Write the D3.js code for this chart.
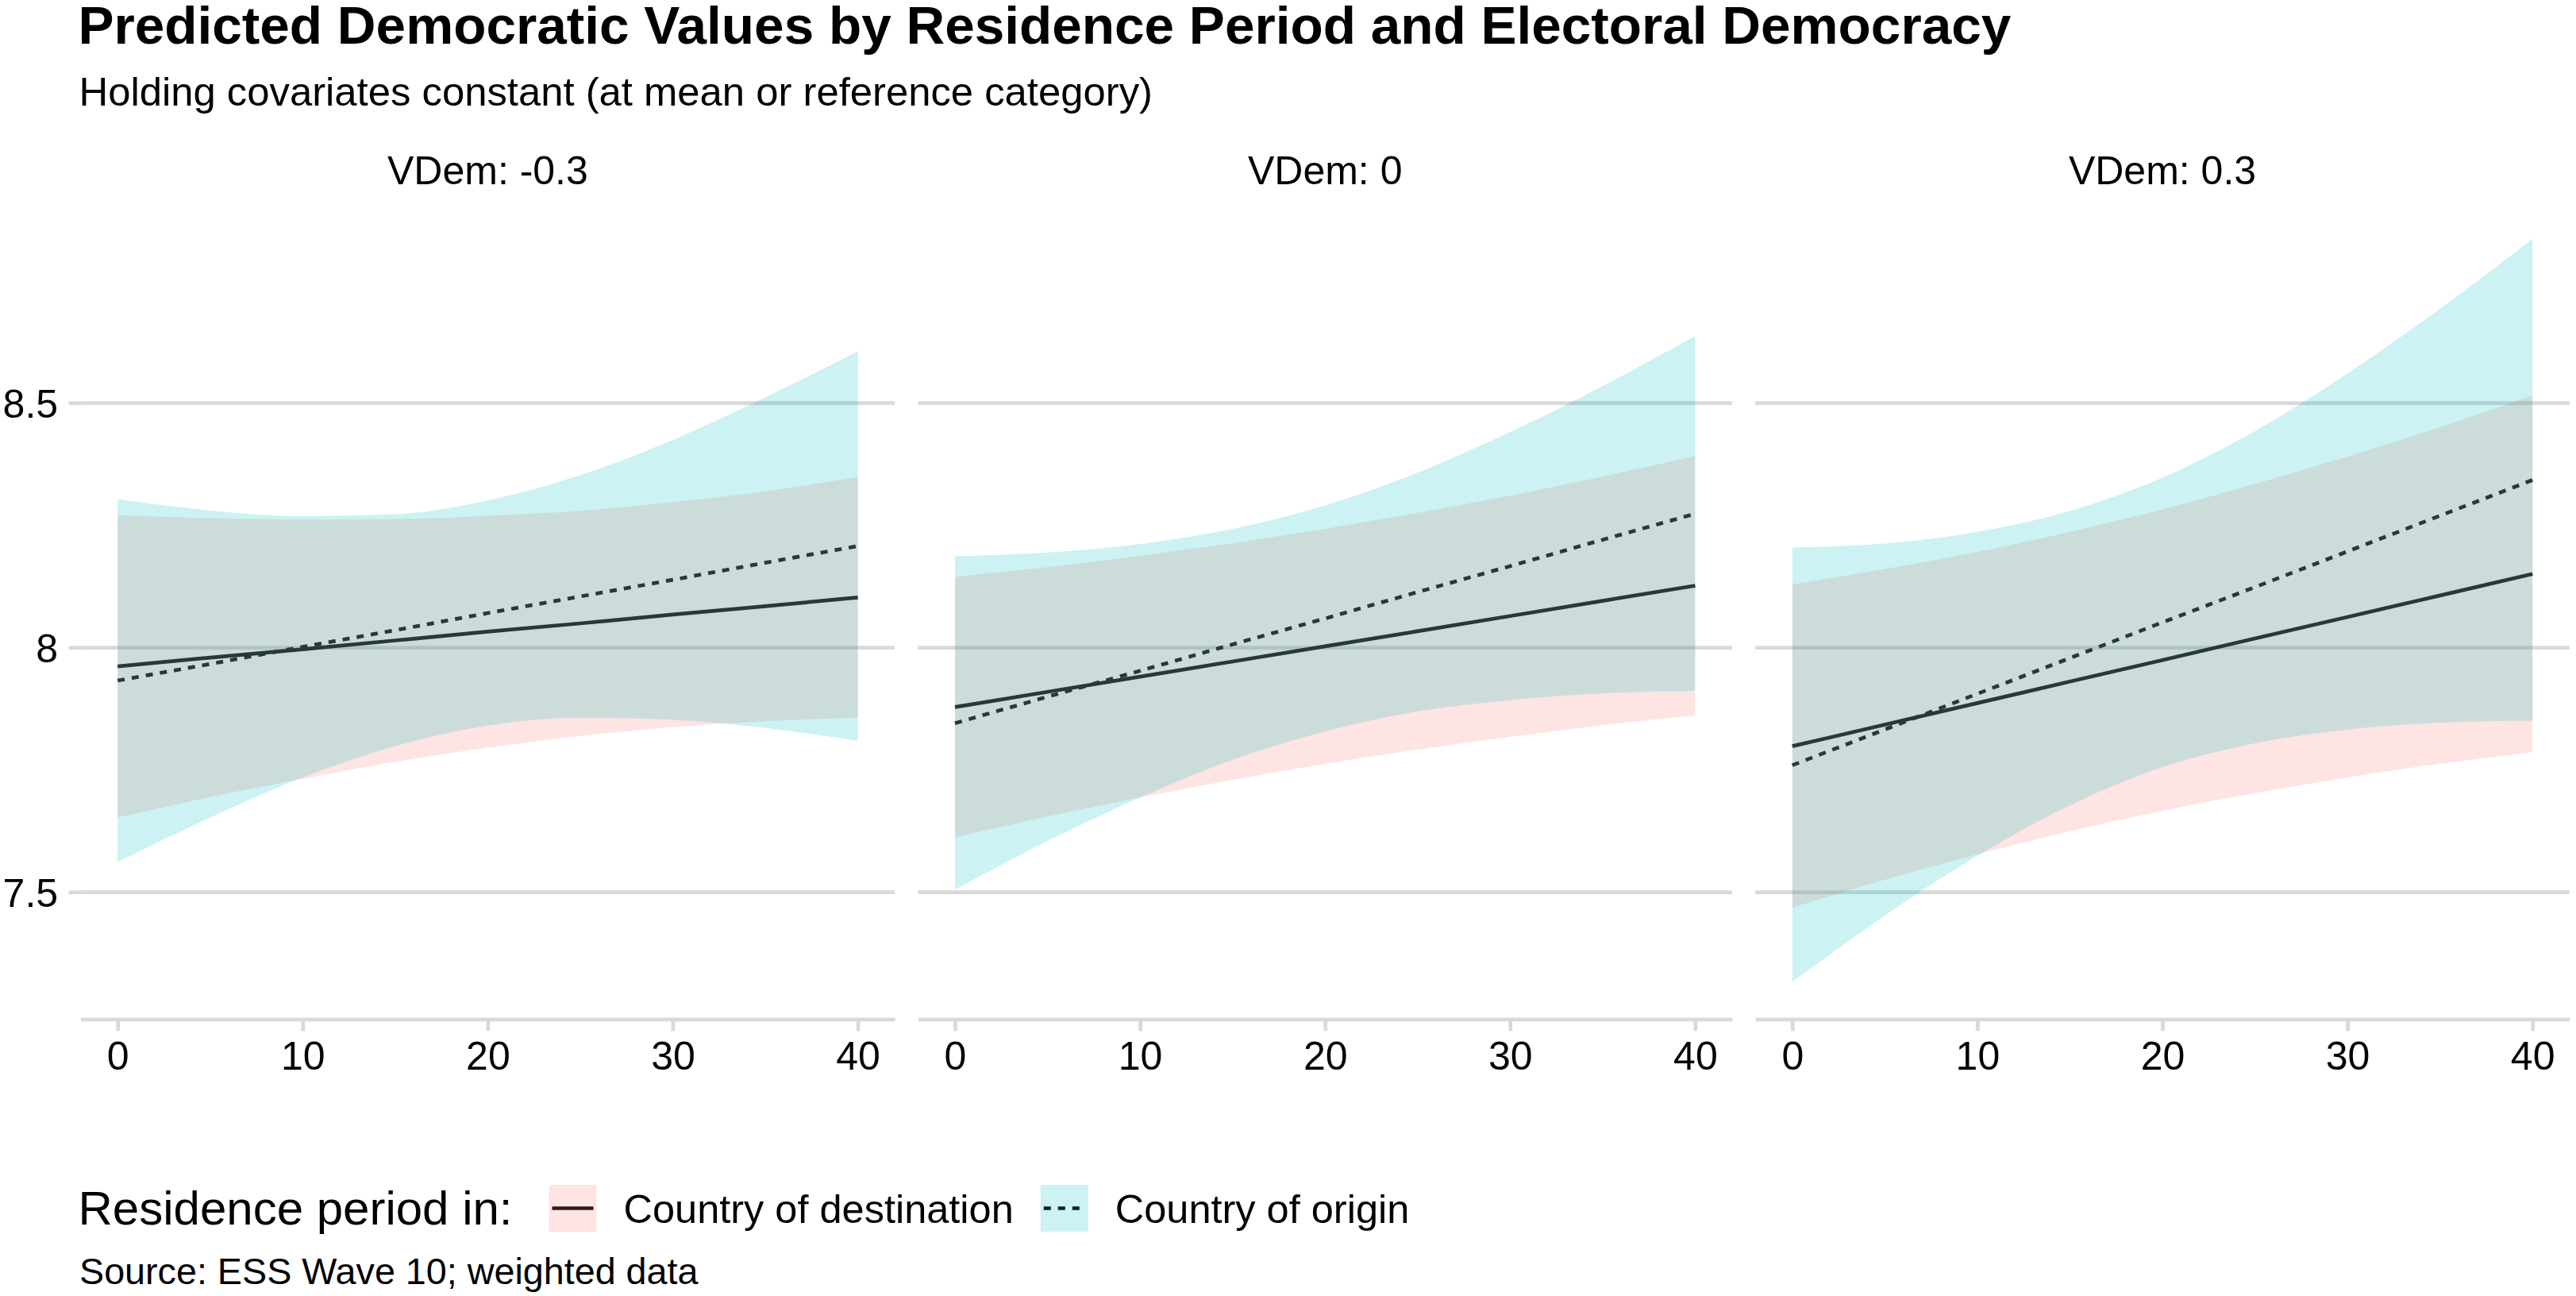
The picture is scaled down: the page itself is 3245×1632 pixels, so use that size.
<!DOCTYPE html>
<html>
<head>
<meta charset="utf-8">
<script src="https://cdn.jsdelivr.net/npm/d3@7"></script>
<style>
html, body { margin: 0; padding: 0; background: #ffffff; }
svg { display: block; font-family: "Liberation Sans", Arial, Helvetica, sans-serif; }
</style>
</head>
<body>
<svg id="chart" width="3245" height="1632"></svg>
<script>
// ---------------- data ----------------
const panelLabels = ["VDem: -0.3", "VDem: 0", "VDem: 0.3"];
const years = [0, 5, 10, 15, 20, 25, 30, 35, 40];
const groups = ["Country of destination", "Country of origin"];
const groupFills = ["#F8766D", "#00BFC4"];
const xTicks = [0, 10, 20, 30, 40];
const yTicks = [7.5, 8, 8.5];
const yTickLabels = ["7.5", "8", "8.5"];

// VDem -0.3
const destFitA  = [7.961, 7.979, 7.996, 8.014, 8.032, 8.049, 8.067, 8.084, 8.102];
const destLowA  = [7.652, 7.694, 7.731, 7.766, 7.795, 7.819, 7.837, 7.849, 7.856];
const destHighA = [8.270, 8.264, 8.261, 8.262, 8.269, 8.279, 8.297, 8.319, 8.348];
const origFitA  = [7.932, 7.966, 8.001, 8.035, 8.070, 8.104, 8.138, 8.173, 8.207];
const origLowA  = [7.561, 7.652, 7.734, 7.798, 7.840, 7.856, 7.852, 7.835, 7.809];
const origHighA = [8.303, 8.280, 8.268, 8.272, 8.300, 8.352, 8.424, 8.511, 8.605];

// VDem 0
const destFitB  = [7.878, 7.909, 7.940, 7.971, 8.002, 8.033, 8.064, 8.095, 8.126];
const destLowB  = [7.612, 7.654, 7.693, 7.729, 7.762, 7.791, 7.817, 7.841, 7.861];
const destHighB = [8.144, 8.164, 8.187, 8.213, 8.242, 8.275, 8.310, 8.349, 8.391];
const origFitB  = [7.845, 7.899, 7.952, 8.006, 8.059, 8.113, 8.166, 8.220, 8.273];
const origLowB  = [7.505, 7.604, 7.693, 7.770, 7.828, 7.869, 7.892, 7.906, 7.911];
const origHighB = [8.186, 8.194, 8.211, 8.242, 8.290, 8.357, 8.440, 8.534, 8.636];

// VDem 0.3
const destFitC  = [7.798, 7.842, 7.886, 7.930, 7.974, 8.018, 8.062, 8.106, 8.150];
const destLowC  = [7.468, 7.525, 7.577, 7.624, 7.666, 7.702, 7.734, 7.762, 7.786];
const destHighC = [8.129, 8.160, 8.195, 8.236, 8.282, 8.334, 8.390, 8.450, 8.515];
const origFitC  = [7.759, 7.832, 7.905, 7.978, 8.051, 8.123, 8.196, 8.269, 8.342];
const origLowC  = [7.316, 7.452, 7.574, 7.677, 7.755, 7.804, 7.832, 7.846, 7.850];
const origHighC = [8.204, 8.212, 8.236, 8.279, 8.347, 8.442, 8.560, 8.692, 8.835];

const panelSeries = [
  { dest: [destFitA, destLowA, destHighA], orig: [origFitA, origLowA, origHighA] },
  { dest: [destFitB, destLowB, destHighB], orig: [origFitB, origLowB, origHighB] },
  { dest: [destFitC, destLowC, destHighC], orig: [origFitC, origLowC, origHighC] }
];

// ---------------- layout ----------------
const W = 3245, H = 1632;
const panelLeft = 101.6, panelW = 1025.6, panelGap = 29.2;
const panelTop = 254, panelBottom = 1283.3;
const gridColor = "#D9D9D9";
const gridW = 4.7;
const lineW = 4.7;
const fillAlpha = 0.2;

const svg = d3.select("#chart");
svg.append("rect").attr("width", W).attr("height", H).attr("fill", "#ffffff");

const allVals = panelSeries.flatMap(p => [...p.dest.flat(), ...p.orig.flat()]);
const [vMin, vMax] = d3.extent(allVals);
const vPad = (vMax - vMin) * 0.05;
const y = d3.scaleLinear().domain([vMin - vPad, vMax + vPad]).range([panelBottom, panelTop]);

const [xMin, xMax] = d3.extent(years);
const xPad = (xMax - xMin) * 0.05;

function rows(arr) {
  return years.map((yr, i) => ({ year: yr, fit: arr[0][i], lo: arr[1][i], hi: arr[2][i] }));
}

panelSeries.forEach((p, pi) => {
  const left = panelLeft + pi * (panelW + panelGap);
  const x = d3.scaleLinear().domain([xMin - xPad, xMax + xPad]).range([0, panelW]);
  const g = svg.append("g").attr("transform", `translate(${left},0)`);

  // horizontal grid lines
  const grid = g.append("g").call(d3.axisLeft(y).tickValues(yTicks).tickSize(-panelW).tickFormat(""));
  grid.select(".domain").remove();
  grid.selectAll("line").attr("stroke", gridColor).attr("stroke-width", gridW);

  // y axis only on first panel
  if (pi === 0) {
    const ya = g.append("g").call(d3.axisLeft(y).tickValues(yTicks).tickSize(15).tickPadding(13.5)
      .tickFormat((d, i) => yTickLabels[i]));
    ya.select(".domain").remove();
    ya.selectAll("line").attr("stroke", gridColor).attr("stroke-width", gridW);
    ya.selectAll("text").attr("font-size", 50).attr("fill", "#000").attr("dy", "0.36em")
      .attr("font-family", "'Liberation Sans', Arial, sans-serif");
  }

  // x axis
  const xa = g.append("g").attr("transform", `translate(0,${panelBottom})`)
    .call(d3.axisBottom(x).tickValues(xTicks).tickSize(15).tickSizeOuter(0).tickPadding(12.9));
  xa.select(".domain").attr("stroke", gridColor).attr("stroke-width", gridW);
  xa.selectAll("line").attr("stroke", gridColor).attr("stroke-width", gridW);
  xa.selectAll("text").attr("font-size", 50).attr("fill", "#000")
    .attr("font-family", "'Liberation Sans', Arial, sans-serif");

  const dRows = rows(p.dest), oRows = rows(p.orig);

  // fitted lines (drawn beneath the ribbons)
  const line = d3.line().x(d => x(d.year)).y(d => y(d.fit));
  g.append("path").datum(dRows).attr("d", line).attr("fill", "none")
    .attr("stroke", "#000").attr("stroke-width", lineW);
  g.append("path").datum(oRows).attr("d", line).attr("fill", "none")
    .attr("stroke", "#000").attr("stroke-width", lineW).attr("stroke-dasharray", "9,9");

  // confidence ribbons
  const area = d3.area().x(d => x(d.year)).y0(d => y(d.lo)).y1(d => y(d.hi)).curve(d3.curveMonotoneX);
  g.append("path").datum(dRows).attr("d", area).attr("fill", groupFills[0]).attr("fill-opacity", fillAlpha);
  g.append("path").datum(oRows).attr("d", area).attr("fill", groupFills[1]).attr("fill-opacity", fillAlpha);

  // strip label
  g.append("text").attr("x", panelW / 2).attr("y", 231.7).attr("text-anchor", "middle")
    .attr("font-size", 50).attr("fill", "#000").text(panelLabels[pi]);
});

// ---------------- titles ----------------
svg.append("text").attr("x", 98.5).attr("y", 54.5).attr("font-size", 67.5).attr("font-weight", "bold")
  .attr("fill", "#000").text("Predicted Democratic Values by Residence Period and Electoral Democracy");
svg.append("text").attr("x", 99.5).attr("y", 133.3).attr("font-size", 50.8).attr("fill", "#000")
  .text("Holding covariates constant (at mean or reference category)");

// ---------------- legend ----------------
const leg = svg.append("g");
leg.append("text").attr("x", 98.5).attr("y", 1541.7).attr("font-size", 60).attr("fill", "#000")
  .text("Residence period in:");
let kx = 691.5;
const keyY = 1492, keyW = 60, keyH = 59;
groups.forEach((gname, i) => {
  const midY = keyY + keyH / 2;
  leg.append("line").attr("x1", kx + 4).attr("x2", kx + keyW - 4).attr("y1", midY).attr("y2", midY)
    .attr("stroke", "#000").attr("stroke-width", lineW)
    .attr("stroke-dasharray", i === 1 ? "9,9" : null);
  leg.append("rect").attr("x", kx).attr("y", keyY).attr("width", keyW).attr("height", keyH)
    .attr("fill", groupFills[i]).attr("fill-opacity", fillAlpha);
  const t = leg.append("text").attr("x", kx + keyW + 34).attr("y", 1540).attr("font-size", 50.5)
    .attr("fill", "#000").text(gname);
  kx = kx + keyW + 34 + t.node().getComputedTextLength() + 34;
});

// ---------------- caption ----------------
svg.append("text").attr("x", 100).attr("y", 1616.7).attr("font-size", 46.7).attr("fill", "#000")
  .text("Source: ESS Wave 10; weighted data");
</script>
</body>
</html>
